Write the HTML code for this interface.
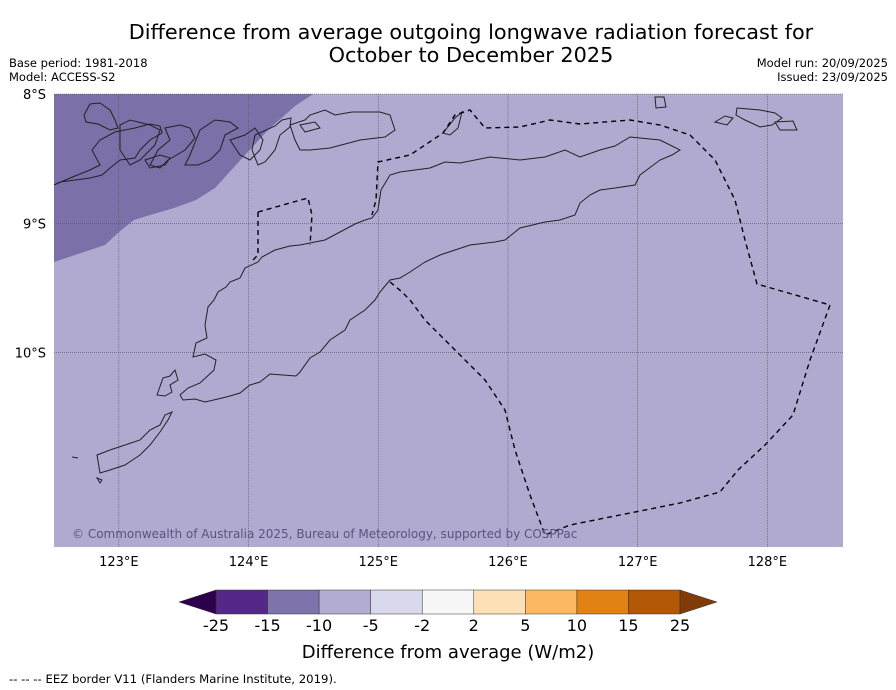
<!DOCTYPE html>
<html><head><meta charset="utf-8">
<style>
body{margin:0;background:#fff;width:896px;height:690px;overflow:hidden;font-family:"DejaVu Sans","Liberation Sans",sans-serif;}
svg{position:absolute;left:0;top:0}
</style></head>
<body>
<svg id="chart" width="896" height="690">
<text x="471" y="39" text-anchor="middle" font-size="20.8">Difference from average outgoing longwave radiation forecast for</text>
<text x="471" y="62" text-anchor="middle" font-size="20.8">October to December 2025</text>
<text x="9" y="67" font-size="11.5">Base period: 1981-2018</text>
<text x="9" y="81" font-size="11.5">Model: ACCESS-S2</text>
<text x="888" y="67" font-size="11.5" text-anchor="end">Model run: 20/09/2025</text>
<text x="888" y="81" font-size="11.5" text-anchor="end">Issued: 23/09/2025</text>
<g>
<rect x="54" y="94" width="789" height="453" fill="#b0a9d0"/>
<polygon points="54,94 313,94 295,106 268,130 245,155 215,188 196,200 174,208 150,215 134,220 120,231 105,245 90,250 54,262" fill="#7b70a8"/>
<g id="grid"></g>
<g fill="none" stroke="#222" stroke-width="1">
<path d="M193,357 L196,343 L207,338 L205,325 L208,307 L214,300 L218,292 L226,287 L230,282 L240,278 L245,268 L258,262 L262,257 L275,250 L290,246 L300,245 L310,243 L325,240 L340,232 L355,224 L365,220 L372,218 L378,210 L381,190 L390,175 L400,172 L430,168 L445,162 L460,163 L490,157 L520,160 L545,157 L565,150 L580,157 L600,150 L615,146 L630,137 L660,140 L680,150 L672,155 L660,160 L640,175 L635,185 L615,188 L600,190 L590,195 L580,203 L575,215 L560,220 L545,222 L520,228 L505,240 L495,242 L470,245 L455,250 L440,255 L425,262 L410,272 L400,278 L390,280 L380,292 L375,300 L365,310 L350,320 L345,330 L330,340 L320,352 L310,358 L300,372 L296,376 L270,374 L260,382 L250,385 L240,393 L230,396 L218,399 L205,402 L195,399 L183,400 L180,395 L188,388 L200,383 L214,370 L216,360 L205,354 Z"/>
<path d="M157,395 L163,378 L170,376 L175,370 L178,380 L170,385 L172,392 L165,396 Z"/>
<path d="M84,115 L90,104 L100,103 L110,110 L115,120 L118,128 L110,130 L98,124 L86,122 Z M54,185 L70,178 L90,170 L100,165 L92,150 L100,140 L115,132 L125,130 L135,128 L150,124 L160,126 L162,133 L150,140 L140,150 L135,158 L120,160 L110,168 L102,175 L90,178 L75,180 L60,182 Z"/>
<path d="M120,125 L130,120 L150,125 L160,130 L155,145 L140,160 L130,165 L120,150 Z"/>
<path d="M145,160 L160,155 L170,158 L165,165 L150,168 Z"/>
<path d="M165,128 L180,125 L190,128 L195,138 L185,150 L175,156 L168,160 L160,168 L150,165 L158,150 L170,140 Z"/>
<path d="M200,130 L215,120 L230,122 L238,128 L225,135 L220,150 L210,160 L198,165 L185,165 L190,155 Z"/>
<path d="M230,140 L245,135 L255,128 L263,140 L260,150 L250,160 L240,155 Z"/>
<path d="M255,135 L275,126 L282,120 L291,118 L290,127 L280,135 L275,150 L265,162 L258,165 L252,150 Z"/>
<path d="M290,125 L305,120 L310,115 L325,110 L335,115 L352,112 L380,112 L390,115 L395,130 L385,137 L360,140 L330,148 L310,150 L300,150 L295,140 Z"/>
<path d="M300,125 L315,122 L320,128 L305,132 Z"/>
<path d="M443,133 L455,118 L462,112 L458,128 L450,135 Z"/>
<path d="M655,97 L664,97 L666,107 L656,108 Z M715,122 L725,116 L733,118 L727,125 Z M737,108 L760,110 L775,113 L782,118 L772,125 L760,127 L745,120 L736,115 Z M775,122 L793,121 L797,130 L780,130 Z"/>
<path d="M72,457 L78,458 M97,455 L110,450 L125,445 L140,440 L150,430 L160,425 L165,415 L172,412 L168,420 L160,432 L150,445 L140,455 L125,465 L110,470 L100,473 Z M97,478 L102,480 L100,483 Z"/>
</g>
<g fill="none" stroke="#000" stroke-width="1.4" stroke-dasharray="5,4">
<path d="M390,282 L402,292 L410,300 L425,320 L440,335 L455,350 L470,365 L485,380 L505,410 L515,450 L530,495 L545,535 L570,525 L620,515 L680,503 L720,492 L738,470 L765,445 L793,415 L810,360 L830,305 L757,284 L745,240 L735,200 L715,160 L690,135 L660,125 L630,120 L580,124 L550,120 L520,127 L485,128 L470,110 L455,115 L443,133 L425,145 L410,155 L378,162 L376,200 L372,215"/>
<path d="M258,212 L258,245 L258,255 L251,262 M258,212 L290,203 L308,198 L312,215 L310,245"/>
</g>
<text x="72" y="538" font-size="12" fill="#5a5380">© Commonwealth of Australia 2025, Bureau of Meteorology, supported by COSPPac</text>
</g>
<g id="axes"></g>
<g id="cbar"></g>
<text x="448" y="658" text-anchor="middle" font-size="18">Difference from average (W/m2)</text>
<text x="9" y="683" font-size="11.7">--  --  -- EEZ border V11 (Flanders Marine Institute, 2019).</text>
</svg>
<script>
const lonTicks=[123,124,125,126,127,128];
const latTicks=[8,9,10];
const cbarLabels=["-25","-15","-10","-5","-2","2","5","10","15","25"];
const cbarColors=["#542788","#8073ac","#b2abd2","#d8daeb","#f7f7f7","#fee0b6","#fdb863","#e08214","#b35806"];
const cbarExtColors=["#2d004b","#7f3b08"];
const NS="http://www.w3.org/2000/svg";
function xLon(l){return 54+(l-122.5)*129.7;}
function yLat(l){return 94+(l-8)*129.3;}
function mk(tag,attrs,parent){const e=document.createElementNS(NS,tag);for(const k in attrs)e.setAttribute(k,attrs[k]);parent.appendChild(e);return e;}
const grid=document.getElementById('grid'),axes=document.getElementById('axes'),cb=document.getElementById('cbar');
lonTicks.forEach(l=>{const x=xLon(l);
 const g=mk('line',{x1:x,x2:x,y1:94,y2:547,stroke:'#555','stroke-width':0.6,'stroke-dasharray':'1,1'},grid);
 
 
 const t=mk('text',{x:x,y:566,'text-anchor':'middle','font-size':13},axes);t.textContent=l+'°E';
 
 
});
latTicks.forEach(l=>{const y=yLat(l);
 const g=mk('line',{x1:54,x2:843,y1:y,y2:y,stroke:'#555','stroke-width':0.6,'stroke-dasharray':'1,1'},grid);
 
 
 const t=mk('text',{x:46,y:y+5,'text-anchor':'end','font-size':13},axes);t.textContent=l+'°S';
 
 
});
const x0=216,x1=680,y0=590,h=24,w=(x1-x0)/cbarColors.length;
cbarColors.forEach((c,i)=>{const r=mk('rect',{x:x0+i*w,y:y0,width:w,height:h,fill:c,stroke:'#333','stroke-width':0.5},cb);
 
 });
const pl=mk('polygon',{points:`${x0},${y0} 179,${y0+h/2} ${x0},${y0+h}`,fill:cbarExtColors[0],stroke:'#333','stroke-width':0.5},cb);


const pr=mk('polygon',{points:`${x1},${y0} 717,${y0+h/2} ${x1},${y0+h}`,fill:cbarExtColors[1],stroke:'#333','stroke-width':0.5},cb);


cbarLabels.forEach((s,i)=>{const t=mk('text',{x:x0+i*w,y:631,'text-anchor':'middle','font-size':16},cb);t.textContent=s;
 
 });
</script>
</body></html>
